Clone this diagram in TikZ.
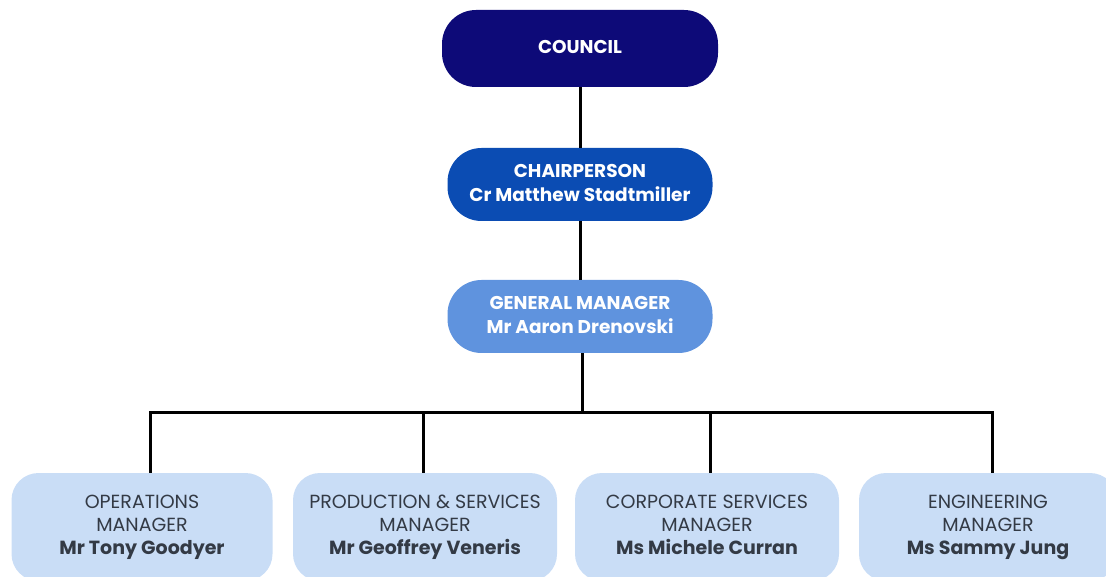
\documentclass[tikz,border=0pt]{standalone}
\usepackage{fontspec}
\setmainfont{Poppins}
\definecolor{navy}{HTML}{0D0A78}
\definecolor{royal}{HTML}{0B4CB3}
\definecolor{sky}{HTML}{5F93DE}
\definecolor{pale}{HTML}{C9DDF6}
\definecolor{txt}{HTML}{333A45}
\begin{document}
\begin{tikzpicture}[x=1pt,y=1pt,
  topbox/.style={rounded corners=34pt, text=white, font=\bfseries\fontsize{18.5}{24}\selectfont, align=center, inner sep=0pt},
  lowbox/.style={fill=pale, rounded corners=27pt, text=txt, font=\fontsize{19}{23}\selectfont, align=center, inner sep=0pt, minimum height=108pt},
  link/.style={line width=3pt, black}]
\useasboundingbox (0,0) rectangle (1106,-577);
\clip (0,0) rectangle (1106,-577);
\node[topbox, fill=navy, minimum width=276pt, minimum height=77pt] (council) at (580,-48.5) {\strut COUNCIL};
\node[topbox, fill=royal, minimum width=265pt, minimum height=73pt] (chair) at (580,-184.5) {\strut CHAIRPERSON\\Cr Matthew Stadtmiller\strut};
\node[topbox, fill=sky, minimum width=265pt, minimum height=73pt] (gm) at (580,-316.5) {\strut GENERAL MANAGER\\Mr Aaron Drenovski\strut};
\node[lowbox, minimum width=261pt] (ops) at (142,-527) {\strut OPERATIONS\\MANAGER\\\textbf{Mr Tony Goodyer}\strut};
\node[lowbox, minimum width=264pt] (prod) at (425,-527) {\strut PRODUCTION \& SERVICES\\MANAGER\\\textbf{Mr Geoffrey Veneris}\strut};
\node[lowbox, minimum width=264pt] (corp) at (707,-527) {\strut CORPORATE SERVICES\\MANAGER\\\textbf{Ms Michele Curran}\strut};
\node[lowbox, minimum width=258pt] (eng) at (988,-527) {\strut ENGINEERING\\MANAGER\\\textbf{Ms Sammy Jung}\strut};
\coordinate (bus) at (582,-412);
\draw[link] (council.south) -- (chair.north);
\draw[link] (chair.south) -- (gm.north);
\draw[link] (gm.south -| bus) -- (bus);
\draw[link] (ops.north -| 150,0) |- (bus) -| (eng.north -| 992,0);
\draw[link] (prod.north -| 423,0) -- (423,-412);
\draw[link] (corp.north -| 710,0) -- (710,-412);
\end{tikzpicture}
\end{document}
